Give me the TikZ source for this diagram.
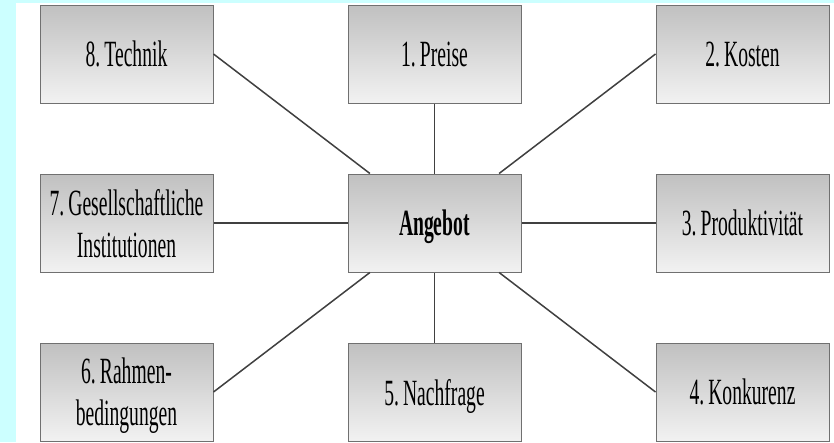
\documentclass[tikz,border=0pt]{standalone}
\usepackage{fontspec}
\newfontfamily\boxfont[FakeStretch=0.53, WordSpace=0.5]{Liberation Serif}
\definecolor{slidecyan}{RGB}{204,255,255}
\definecolor{boxborder}{RGB}{112,112,112}
\definecolor{boxtop}{RGB}{192,192,192}
\definecolor{boxbottom}{RGB}{242,242,242}
\definecolor{linkgray}{RGB}{64,64,64}
\tikzstyle{factor} = [rectangle, minimum width=173pt, minimum height=98pt, inner sep=0pt, text depth=0pt, align=center, draw=boxborder, line width=1pt, top color=boxtop, bottom color=boxbottom, font=\boxfont\fontsize{37}{42}\selectfont]
\tikzstyle{core} = [factor, font=\boxfont\bfseries\fontsize{37}{42}\selectfont]
\tikzstyle{link} = [draw=linkgray, line width=1.5pt]

\begin{document}
\begin{tikzpicture}[node distance=169pt]
\fill [slidecyan] (0,0) rectangle (834pt,-442pt);
\fill [white] (16pt,-3pt) rectangle (834pt,-442pt);
\useasboundingbox (0,0) rectangle (834pt,-442pt);
\node (angebot) [core] at (434.5pt,-223pt) {Angebot};
\node (preise) [factor, above of=angebot] {1. Preise};
\node (nachfrage) [factor, below of=angebot] {5. Nachfrage};
\node (produkt) [factor, right of=angebot, xshift=139pt] {3. Produktivität};
\node (institut) [factor, left of=angebot, xshift=-139pt] {7. Gesellschaftliche\\Institutionen};
\node (kosten) [factor, above of=produkt] {2. Kosten};
\node (konkurenz) [factor, below of=produkt] {4. Konkurenz};
\node (technik) [factor, above of=institut] {8. Technik};
\node (rahmen) [factor, below of=institut] {6. Rahmen-\\bedingungen};

\draw [link] (preise) -- (angebot);
\draw [link] (kosten.west) -- (angebot);
\draw [link] (produkt) -- (angebot);
\draw [link] (konkurenz.west) -- (angebot);
\draw [link] (nachfrage) -- (angebot);
\draw [link] (rahmen.east) -- (angebot);
\draw [link] (institut) -- (angebot);
\draw [link] (technik.east) -- (angebot);
\end{tikzpicture}
\end{document}
